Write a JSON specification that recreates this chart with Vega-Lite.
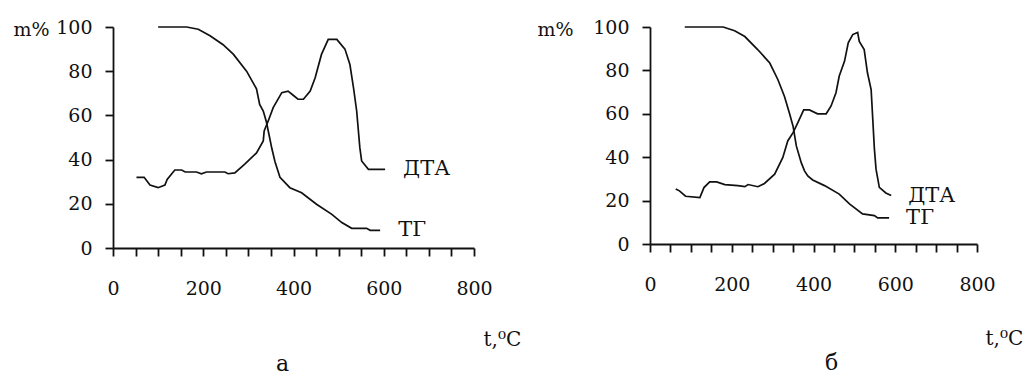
{
  "$schema": "https://vega.github.io/schema/vega-lite/v6.json",
  "padding": {"left": 13, "top": 18, "right": 0, "bottom": 0},
  "background": "white",
  "spacing": 176,
  "bounds": "flush",
  "config": {
    "font": "DejaVu Serif",
    "view": {"stroke": null},
    "axis": {
      "grid": false,
      "domainColor": "#111",
      "domainWidth": 1.8,
      "tickColor": "#111",
      "tickWidth": 1.8,
      "tickSize": 8,
      "labelFont": "DejaVu Serif",
      "labelFontSize": 19,
      "labelColor": "#111",
      "titleFont": "DejaVu Serif",
      "titleFontSize": 19,
      "titleFontWeight": "normal",
      "titleColor": "#111"
    },
    "title": {"font": "DejaVu Serif", "fontSize": 22, "fontWeight": "normal", "color": "#111"}
  },
  "datasets": {
    "a": [
      {"t": 100, "v": 100, "s": "ТГ"}, {"t": 163, "v": 100, "s": "ТГ"}, {"t": 189, "v": 99, "s": "ТГ"},
      {"t": 215, "v": 96, "s": "ТГ"}, {"t": 244, "v": 92, "s": "ТГ"}, {"t": 267, "v": 87.6, "s": "ТГ"},
      {"t": 296, "v": 80, "s": "ТГ"}, {"t": 318, "v": 72, "s": "ТГ"}, {"t": 325, "v": 65, "s": "ТГ"},
      {"t": 333, "v": 62, "s": "ТГ"}, {"t": 340, "v": 57, "s": "ТГ"}, {"t": 346, "v": 51, "s": "ТГ"},
      {"t": 352, "v": 45, "s": "ТГ"}, {"t": 359, "v": 39, "s": "ТГ"}, {"t": 370, "v": 32, "s": "ТГ"},
      {"t": 392, "v": 27.3, "s": "ТГ"}, {"t": 418, "v": 25, "s": "ТГ"}, {"t": 451, "v": 19.8, "s": "ТГ"},
      {"t": 485, "v": 15.2, "s": "ТГ"}, {"t": 507, "v": 11.5, "s": "ТГ"}, {"t": 529, "v": 8.9, "s": "ТГ"},
      {"t": 562, "v": 8.9, "s": "ТГ"}, {"t": 570, "v": 8, "s": "ТГ"}, {"t": 592, "v": 8, "s": "ТГ"},
      {"t": 52, "v": 32, "s": "ДТА"}, {"t": 69, "v": 32, "s": "ДТА"}, {"t": 82, "v": 28.5, "s": "ДТА"},
      {"t": 100, "v": 27.3, "s": "ДТА"}, {"t": 115, "v": 28.5, "s": "ДТА"}, {"t": 120, "v": 31, "s": "ДТА"},
      {"t": 137, "v": 35.3, "s": "ДТА"}, {"t": 152, "v": 35.3, "s": "ДТА"}, {"t": 160, "v": 34.4, "s": "ДТА"},
      {"t": 185, "v": 34.4, "s": "ДТА"}, {"t": 196, "v": 33.6, "s": "ДТА"}, {"t": 207, "v": 34.4, "s": "ДТА"},
      {"t": 248, "v": 34.4, "s": "ДТА"}, {"t": 255, "v": 33.6, "s": "ДТА"}, {"t": 270, "v": 34, "s": "ДТА"},
      {"t": 292, "v": 38, "s": "ДТА"}, {"t": 318, "v": 43, "s": "ДТА"}, {"t": 333, "v": 48.4, "s": "ДТА"},
      {"t": 335, "v": 53, "s": "ДТА"}, {"t": 344, "v": 57.5, "s": "ДТА"}, {"t": 355, "v": 63.5, "s": "ДТА"},
      {"t": 374, "v": 70.3, "s": "ДТА"}, {"t": 388, "v": 71, "s": "ДТА"}, {"t": 400, "v": 69, "s": "ДТА"},
      {"t": 410, "v": 67.3, "s": "ДТА"}, {"t": 422, "v": 67.3, "s": "ДТА"}, {"t": 437, "v": 71, "s": "ДТА"},
      {"t": 448, "v": 77, "s": "ДТА"}, {"t": 462, "v": 87.6, "s": "ДТА"}, {"t": 477, "v": 94.4, "s": "ДТА"},
      {"t": 496, "v": 94.4, "s": "ДТА"}, {"t": 514, "v": 90, "s": "ДТА"}, {"t": 525, "v": 83, "s": "ДТА"},
      {"t": 533, "v": 72.5, "s": "ДТА"}, {"t": 540, "v": 62, "s": "ДТА"}, {"t": 547, "v": 45.4, "s": "ДТА"},
      {"t": 551, "v": 39.4, "s": "ДТА"}, {"t": 566, "v": 35.6, "s": "ДТА"}, {"t": 603, "v": 35.6, "s": "ДТА"}
    ],
    "b": [
      {"t": 85, "v": 100, "s": "ТГ"}, {"t": 179, "v": 100, "s": "ТГ"}, {"t": 207, "v": 98.3, "s": "ТГ"},
      {"t": 232, "v": 95.6, "s": "ТГ"}, {"t": 264, "v": 89.5, "s": "ТГ"}, {"t": 293, "v": 83.4, "s": "ТГ"},
      {"t": 313, "v": 75.7, "s": "ТГ"}, {"t": 329, "v": 68, "s": "ТГ"}, {"t": 341, "v": 60.4, "s": "ТГ"},
      {"t": 350, "v": 54.3, "s": "ТГ"}, {"t": 358, "v": 45.2, "s": "ТГ"}, {"t": 370, "v": 37.5, "s": "ТГ"},
      {"t": 378, "v": 33.7, "s": "ТГ"}, {"t": 386, "v": 31.4, "s": "ТГ"}, {"t": 398, "v": 29.5, "s": "ТГ"},
      {"t": 427, "v": 26.9, "s": "ТГ"}, {"t": 463, "v": 23, "s": "ТГ"}, {"t": 488, "v": 18.5, "s": "ТГ"},
      {"t": 520, "v": 13.9, "s": "ТГ"}, {"t": 549, "v": 13.1, "s": "ТГ"}, {"t": 557, "v": 12, "s": "ТГ"},
      {"t": 585, "v": 12, "s": "ТГ"},
      {"t": 63, "v": 25.4, "s": "ДТА"}, {"t": 72, "v": 24.5, "s": "ДТА"}, {"t": 87, "v": 22, "s": "ДТА"},
      {"t": 122, "v": 21.4, "s": "ДТА"}, {"t": 132, "v": 26, "s": "ДТА"}, {"t": 146, "v": 28.6, "s": "ДТА"},
      {"t": 163, "v": 28.6, "s": "ДТА"}, {"t": 183, "v": 27.4, "s": "ДТА"}, {"t": 215, "v": 26.9, "s": "ДТА"},
      {"t": 232, "v": 26.4, "s": "ДТА"}, {"t": 240, "v": 27.4, "s": "ДТА"}, {"t": 264, "v": 26.4, "s": "ДТА"},
      {"t": 280, "v": 27.9, "s": "ДТА"}, {"t": 305, "v": 32.2, "s": "ДТА"}, {"t": 325, "v": 39.9, "s": "ДТА"},
      {"t": 337, "v": 47.5, "s": "ДТА"}, {"t": 350, "v": 51.3, "s": "ДТА"}, {"t": 362, "v": 56, "s": "ДТА"},
      {"t": 376, "v": 61.8, "s": "ДТА"}, {"t": 390, "v": 61.8, "s": "ДТА"}, {"t": 410, "v": 60, "s": "ДТА"},
      {"t": 431, "v": 60, "s": "ДТА"}, {"t": 443, "v": 63.6, "s": "ДТА"}, {"t": 455, "v": 69.7, "s": "ДТА"},
      {"t": 463, "v": 77.4, "s": "ДТА"}, {"t": 476, "v": 84.3, "s": "ДТА"}, {"t": 485, "v": 92.7, "s": "ДТА"},
      {"t": 496, "v": 96.5, "s": "ДТА"}, {"t": 508, "v": 97.5, "s": "ДТА"}, {"t": 512, "v": 93.4, "s": "ДТА"},
      {"t": 524, "v": 89.6, "s": "ДТА"}, {"t": 532, "v": 78.9, "s": "ДТА"}, {"t": 541, "v": 71.2, "s": "ДТА"},
      {"t": 545, "v": 57.5, "s": "ДТА"}, {"t": 549, "v": 43.7, "s": "ДТА"}, {"t": 553, "v": 34.5, "s": "ДТА"},
      {"t": 561, "v": 26.1, "s": "ДТА"}, {"t": 577, "v": 23.5, "s": "ДТА"}, {"t": 590, "v": 22.3, "s": "ДТА"}
    ]
  },
  "hconcat": [
    {
      "width": 361,
      "height": 221,
      "data": {"name": "a"},
      "title": {"text": "а", "orient": "bottom", "anchor": "middle", "offset": 5, "dx": -11},
      "encoding": {
        "x": {"field": "t", "type": "quantitative", "scale": {"domain": [0, 800], "nice": false},
          "axis": {"values": [0, 50, 100, 150, 200, 250, 300, 350, 400, 450, 500, 550, 600, 650, 700, 750, 800],
            "labelExpr": "datum.value % 200 === 0 ? datum.label : ''", "labelPadding": 23, "labelFlush": false,
            "title": "t,⁰C", "titleFontSize": 20, "titleX": 370, "titleY": 97, "titleAlign": "left", "titleBaseline": "alphabetic", "titleAnchor": "start"}},
        "y": {"field": "v", "type": "quantitative", "scale": {"domain": [0, 100], "nice": false},
          "axis": {"values": [0, 20, 40, 60, 80, 100], "labelPadding": 13, "labelFlush": false,
            "title": "m%", "titleAngle": 0, "titleX": -100, "titleY": 8, "titleAlign": "left", "titleBaseline": "alphabetic", "titleAnchor": "start"}}
      },
      "layer": [
        {"mark": {"type": "line", "color": "#111", "strokeWidth": 1.7}, "encoding": {"detail": {"field": "s"}, "order": {"field": "t", "type": "quantitative"}}},
        {
          "transform": [
            {"joinaggregate": [{"op": "max", "field": "t", "as": "maxT"}], "groupby": ["s"]},
            {"filter": "datum.t === datum.maxT"}
          ],
          "mark": {"type": "text", "align": "left", "baseline": "middle", "dx": 18, "fontSize": 21, "color": "#111", "font": "DejaVu Serif"},
          "encoding": {"text": {"field": "s"}}
        }
      ]
    },
    {
      "width": 327,
      "height": 217,
      "data": {"name": "b"},
      "title": {"text": "б", "orient": "bottom", "anchor": "middle", "offset": 5, "dx": 18},
      "encoding": {
        "x": {"field": "t", "type": "quantitative", "scale": {"domain": [0, 800], "nice": false},
          "axis": {"values": [0, 50, 100, 150, 200, 250, 300, 350, 400, 450, 500, 550, 600, 650, 700, 750, 800],
            "labelExpr": "datum.value % 200 === 0 ? datum.label : ''", "labelPadding": 23, "labelFlush": false,
            "title": "t,⁰C", "titleFontSize": 20, "titleX": 335, "titleY": 100, "titleAlign": "left", "titleBaseline": "alphabetic", "titleAnchor": "start"}},
        "y": {"field": "v", "type": "quantitative", "scale": {"domain": [0, 100], "nice": false},
          "axis": {"values": [0, 20, 40, 60, 80, 100], "labelPadding": 13, "labelFlush": false,
            "title": "m%", "titleAngle": 0, "titleX": -113, "titleY": 8, "titleAlign": "left", "titleBaseline": "alphabetic", "titleAnchor": "start"}}
      },
      "layer": [
        {"mark": {"type": "line", "color": "#111", "strokeWidth": 1.7}, "encoding": {"detail": {"field": "s"}, "order": {"field": "t", "type": "quantitative"}}},
        {
          "transform": [
            {"joinaggregate": [{"op": "max", "field": "t", "as": "maxT"}], "groupby": ["s"]},
            {"filter": "datum.t === datum.maxT"}
          ],
          "mark": {"type": "text", "align": "left", "baseline": "middle", "dx": 17, "fontSize": 21, "color": "#111", "font": "DejaVu Serif"},
          "encoding": {"text": {"field": "s"}}
        }
      ]
    }
  ]
}
